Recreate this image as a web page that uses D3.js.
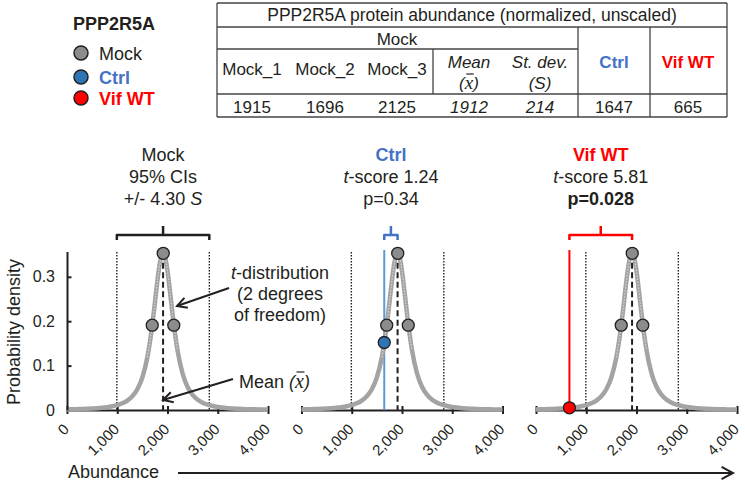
<!DOCTYPE html>
<html>
<head>
<meta charset="utf-8">
<script src="https://cdn.jsdelivr.net/npm/d3@7"></script>
<style>
body { margin: 0; background: #fff; }
text { font-family: "Liberation Sans", Arial, sans-serif; fill: #231f20; }
</style>
</head>
<body>
<svg id="chart" width="745" height="486"></svg>
<script>
// ---- data ----
var geneName = "PPP2R5A";
var groupNames = ["Mock", "Ctrl", "Vif WT"];
var mockLabels = ["Mock_1", "Mock_2", "Mock_3"];
var mockValues = [1915, 1696, 2125];
var mockMean = 1912;
var mockSD = 214;
var ctrlValue = 1647;
var vifValue = 665;
var mockDensity = [0.353, 0.191, 0.191];
var ctrlDensity = 0.152;
var vifDensity = 0.005;
var ciMultiplier = 4.30;
var tScores = ["1.24", "5.81"];
var pValues = ["0.34", "0.028"];
var curveAbundance = [0, 100, 200, 300, 400, 500, 600, 700, 800, 900, 1000, 1100, 1200, 1300, 1400, 1500, 1600,
  1650, 1700, 1750, 1800, 1850, 1900, 1912, 1950, 2000, 2050, 2100, 2150, 2200,
  2300, 2400, 2500, 2600, 2700, 2800, 2900, 3000, 3200, 3400, 3600, 3800, 4000];
var curveDensity = [0.0014, 0.0016, 0.0019, 0.0022, 0.0027, 0.0033, 0.0040, 0.0050, 0.0064, 0.0083, 0.0110, 0.0151, 0.0212, 0.0308, 0.0466, 0.0734, 0.1193,
  0.1529, 0.1942, 0.2423, 0.2917, 0.3324, 0.3528, 0.3536, 0.3454, 0.3131, 0.2663, 0.2167, 0.1717, 0.1344,
  0.0822, 0.0518, 0.0339, 0.0231, 0.0163, 0.0119, 0.0089, 0.0068, 0.0042, 0.0028, 0.0019, 0.0014, 0.0010];
var xTicks = [0, 1000, 2000, 3000, 4000];
var yTicks = [0, 0.1, 0.2, 0.3];

var GREY = "#8c8c8c", DARK = "#231f20", BLUE = "#4472c4", BLUE_PT = "#2e75b6", BLUE_LINE = "#5b9bd5", RED = "#ff0000";

var svg = d3.select("#chart");
var curve = curveAbundance.map(function(a, i) { return [a, curveDensity[i]]; });

function arrow(g, x1, y1, x2, y2, len) {
  var ang = Math.atan2(y2 - y1, x2 - x1), a = 0.5;
  g.append("line").attr("x1", x1).attr("y1", y1).attr("x2", x2).attr("y2", y2)
    .attr("stroke", DARK).attr("stroke-width", 2);
  g.append("path")
    .attr("d", "M" + (x2 - len * Math.cos(ang - a)) + "," + (y2 - len * Math.sin(ang - a)) +
      "L" + x2 + "," + y2 + "L" + (x2 - len * Math.cos(ang + a)) + "," + (y2 - len * Math.sin(ang + a)))
    .attr("fill", "none").attr("stroke", DARK).attr("stroke-width", 2)
    .attr("stroke-linejoin", "miter");
}

// put a bar over the char at index idx of a text node
function overbar(textSel, idx) {
  var e = textSel.node().getExtentOfChar(idx);
  svg.append("line")
    .attr("x1", e.x + 1.5).attr("x2", e.x + e.width + 0.5)
    .attr("y1", e.y + 2).attr("y2", e.y + 2)
    .attr("stroke", DARK).attr("stroke-width", 1.2);
}

// ---- legend ----
svg.append("text").attr("x", 73).attr("y", 30).attr("font-size", 18).attr("font-weight", "bold").text(geneName);
var legendColors = [GREY, BLUE_PT, RED];
var legendText = [DARK, BLUE, RED];
var legendY = [53, 77, 98];
groupNames.forEach(function(n, i) {
  svg.append("circle").attr("cx", 81).attr("cy", legendY[i]).attr("r", 7)
    .attr("fill", legendColors[i]).attr("stroke", DARK).attr("stroke-width", 1.5);
  svg.append("text").attr("x", 99).attr("y", legendY[i] + 6.5).attr("font-size", 18)
    .attr("font-weight", i ? "bold" : "normal").style("fill", legendText[i]).text(n);
});

// ---- table ----
var tbl = svg.append("g");
var tL = 217, tR = 727, tT = 3, tB = 117;
var tLines = [
  [tL, tT, tR, tT], [tL, tB, tR, tB], [tL, tT, tL, tB], [tR, tT, tR, tB],
  [tL, 27, tR, 27], [tL, 49, 578, 49], [tL, 94, tR, 94],
  [578, 27, 578, tB], [650, 27, 650, tB], [433, 49, 433, 94]
];
tbl.selectAll("line").data(tLines).join("line")
  .attr("x1", function(d) { return d[0]; }).attr("y1", function(d) { return d[1]; })
  .attr("x2", function(d) { return d[2]; }).attr("y2", function(d) { return d[3]; })
  .attr("stroke", "#444").attr("stroke-width", 1.3);
tbl.append("text").attr("x", 472).attr("y", 21).attr("font-size", 17.5).attr("text-anchor", "middle")
  .text(geneName + " protein abundance (normalized, unscaled)");
tbl.append("text").attr("x", 397).attr("y", 45).attr("font-size", 17).attr("text-anchor", "middle").text("Mock");
var colX = [252, 325, 397, 469, 540, 614, 688];
mockLabels.forEach(function(l, i) {
  tbl.append("text").attr("x", colX[i]).attr("y", 75).attr("font-size", 17).attr("text-anchor", "middle").text(l);
});
tbl.append("text").attr("x", colX[3]).attr("y", 68).attr("font-size", 17).attr("text-anchor", "middle")
  .attr("font-style", "italic").text("Mean");
var xbarT = tbl.append("text").attr("x", colX[3]).attr("y", 89).attr("font-size", 17).attr("text-anchor", "middle");
xbarT.append("tspan").attr("font-style", "italic").text("(");
xbarT.append("tspan").attr("font-style", "italic").style("font-family", "Liberation Serif, serif").attr("font-size", 19).text("x");
xbarT.append("tspan").attr("font-style", "italic").text(")");
overbar(xbarT, 1);
tbl.append("text").attr("x", colX[4]).attr("y", 68).attr("font-size", 17).attr("text-anchor", "middle")
  .attr("font-style", "italic").text("St. dev.");
tbl.append("text").attr("x", colX[4]).attr("y", 89).attr("font-size", 17).attr("text-anchor", "middle")
  .attr("font-style", "italic").text("(S)");
tbl.append("text").attr("x", colX[5]).attr("y", 68).attr("font-size", 17).attr("text-anchor", "middle")
  .attr("font-weight", "bold").style("fill", BLUE).text(groupNames[1]);
tbl.append("text").attr("x", colX[6]).attr("y", 68).attr("font-size", 17).attr("text-anchor", "middle")
  .attr("font-weight", "bold").style("fill", RED).text(groupNames[2]);
var rowVals = mockValues.concat([mockMean, mockSD, ctrlValue, vifValue]);
rowVals.forEach(function(v, i) {
  tbl.append("text").attr("x", colX[i]).attr("y", 113).attr("font-size", 17).attr("text-anchor", "middle")
    .attr("font-style", (i === 3 || i === 4) ? "italic" : "normal").text(v);
});

// ---- panels ----
var panelX = [67, 301.5, 536];
var panelW = 201;
var ciLo = mockMean - ciMultiplier * mockSD, ciHi = mockMean + ciMultiplier * mockSD;
var y = d3.scaleLinear().domain([0, 0.357]).range([410, 251.5]);
var brY = 235, brEnd = 240, brTop = 226;

panelX.forEach(function(px, p) {
  var x = d3.scaleLinear().domain([0, 4000]).range([px, px + panelW]);
  var g = svg.append("g");

  // dotted CI limits
  [ciLo, ciHi].forEach(function(c) {
    g.append("line").attr("x1", x(c)).attr("x2", x(c)).attr("y1", 252).attr("y2", y(0))
      .attr("stroke", DARK).attr("stroke-width", 1.4).attr("stroke-dasharray", "1.5,1.5");
  });

  // x axis
  var ax = g.append("g").attr("transform", "translate(0," + y(0) + ")")
    .call(d3.axisBottom(x).tickValues(xTicks).tickSize(4).tickSizeOuter(0).tickFormat(""));
  ax.select(".domain").attr("stroke", DARK).attr("stroke-width", 2);
  ax.selectAll(".tick line").attr("y1", -4).attr("stroke", DARK).attr("stroke-width", 2);
  g.selectAll(".xlab").data(xTicks).join("text").attr("class", "xlab")
    .attr("font-size", 15).attr("text-anchor", "end")
    .attr("transform", function(d) { return "translate(" + (x(d) + 3) + ",430) rotate(-45)"; })
    .text(d3.format(","));

  // sample value line
  if (p === 1 || p === 2) {
    var v = p === 1 ? ctrlValue : vifValue;
    g.append("line").attr("x1", x(v)).attr("x2", x(v)).attr("y1", 250).attr("y2", y(0))
      .attr("stroke", p === 1 ? BLUE_LINE : RED).attr("stroke-width", 2);
  }

  // t-distribution
  var line = d3.line().x(function(d) { return x(d[0]); }).y(function(d) { return y(d[1]); }).curve(d3.curveMonotoneX);
  g.append("path").attr("d", line(curve)).attr("fill", "none").attr("stroke", "#a3a3a3").attr("stroke-width", 4.5);
  g.append("path").attr("d", line(curve.filter(function(d) { return d[0] >= 1600 && d[0] <= 2250; })))
    .attr("fill", "none").attr("stroke", "#d4d4d4").attr("stroke-width", 1.2).attr("stroke-dasharray", "1.5,1.5");

  // mean dashed line
  g.append("line").attr("x1", x(mockMean)).attr("x2", x(mockMean)).attr("y1", y(0.353)).attr("y2", y(0))
    .attr("stroke", DARK).attr("stroke-width", 2).attr("stroke-dasharray", "6,3.5");

  // mock points
  g.selectAll(".mock").data(mockValues).join("circle").attr("class", "mock")
    .attr("cx", function(d) { return x(d); }).attr("cy", function(d, i) { return y(mockDensity[i]); })
    .attr("r", 6).attr("fill", GREY).attr("stroke", DARK).attr("stroke-width", 1.3);

  // bracket + header
  var b0, b1, col;
  if (p === 0) { b0 = ciLo; b1 = ciHi; col = DARK; }
  else if (p === 1) { b0 = ctrlValue; b1 = mockMean; col = BLUE; }
  else { b0 = vifValue; b1 = mockMean; col = RED; }
  var xa = x(b0), xb = x(b1), xc = (xa + xb) / 2;
  g.append("path")
    .attr("d", "M" + xa + "," + brEnd + "L" + xa + "," + brY + "L" + xb + "," + brY + "L" + xb + "," + brEnd +
      "M" + xc + "," + brY + "L" + xc + "," + brTop)
    .attr("fill", "none").attr("stroke", col).attr("stroke-width", 2.5).attr("stroke-linejoin", "round");

  var h1 = g.append("text").attr("x", xc).attr("y", 161).attr("font-size", 18).attr("text-anchor", "middle");
  var h2 = g.append("text").attr("x", xc).attr("y", 183).attr("font-size", 18).attr("text-anchor", "middle");
  var h3 = g.append("text").attr("x", xc).attr("y", 205).attr("font-size", 18).attr("text-anchor", "middle");
  if (p === 0) {
    h1.text(groupNames[0]);
    h2.text("95% CIs");
    h3.append("tspan").text("+/- " + ciMultiplier.toFixed(2) + " ");
    h3.append("tspan").attr("font-style", "italic").text("S");
  } else {
    h1.attr("font-weight", "bold").style("fill", col).text(groupNames[p]);
    h2.append("tspan").attr("font-style", "italic").text("t");
    h2.append("tspan").text("-score " + tScores[p - 1]);
    h3.attr("font-weight", p === 2 ? "bold" : "normal").text("p=" + pValues[p - 1]);
  }

  // sample point
  if (p === 1) {
    g.append("circle").attr("cx", x(ctrlValue)).attr("cy", y(ctrlDensity)).attr("r", 6)
      .attr("fill", BLUE_PT).attr("stroke", DARK).attr("stroke-width", 1.3);
  }
  if (p === 2) {
    g.append("circle").attr("cx", x(vifValue)).attr("cy", y(vifDensity)).attr("r", 6)
      .attr("fill", RED).attr("stroke", DARK).attr("stroke-width", 1.3);
  }

  // y axis on first panel only
  if (p === 0) {
    var ay = g.append("g").attr("transform", "translate(" + px + ",0)")
      .call(d3.axisLeft(y).tickValues(yTicks).tickSize(-4.5).tickSizeOuter(0).tickPadding(12)
        .tickFormat(function(d) { return d === 0 ? "0" : d3.format(".1f")(d); }));
    ay.select(".domain").attr("stroke", DARK).attr("stroke-width", 2);
    ay.selectAll(".tick line").attr("stroke", DARK).attr("stroke-width", 2);
    ay.selectAll(".tick text").attr("font-size", 16).attr("font-family", null).style("fill", DARK);
    ay.selectAll(".tick").filter(function(d) { return d === 0; }).select("line").remove();
  }
});

// y label
svg.append("text").attr("transform", "translate(20,332) rotate(-90)").attr("font-size", 18)
  .attr("text-anchor", "middle").text("Probability density");

// annotations
var ann = svg.append("g");
var t1 = ann.append("text").attr("x", 280).attr("y", 279).attr("font-size", 18).attr("text-anchor", "middle");
t1.append("tspan").attr("font-style", "italic").text("t");
t1.append("tspan").text("-distribution");
ann.append("text").attr("x", 280).attr("y", 300).attr("font-size", 18).attr("text-anchor", "middle").text("(2 degrees");
ann.append("text").attr("x", 280).attr("y", 321).attr("font-size", 18).attr("text-anchor", "middle").text("of freedom)");
arrow(ann, 229, 288, 177, 306, 11);

var mt = ann.append("text").attr("x", 239).attr("y", 388).attr("font-size", 18);
mt.append("tspan").text("Mean ");
mt.append("tspan").attr("font-style", "italic").text("(");
mt.append("tspan").attr("font-style", "italic").style("font-family", "Liberation Serif, serif").attr("font-size", 20).text("x");
mt.append("tspan").attr("font-style", "italic").text(")");
overbar(mt, 6);
arrow(ann, 233, 379, 163, 400, 11);

// abundance axis title + arrow
svg.append("text").attr("x", 68).attr("y", 478).attr("font-size", 18).text("Abundance");
arrow(svg.append("g"), 178, 473, 733, 473, 13);
</script>
</body>
</html>
